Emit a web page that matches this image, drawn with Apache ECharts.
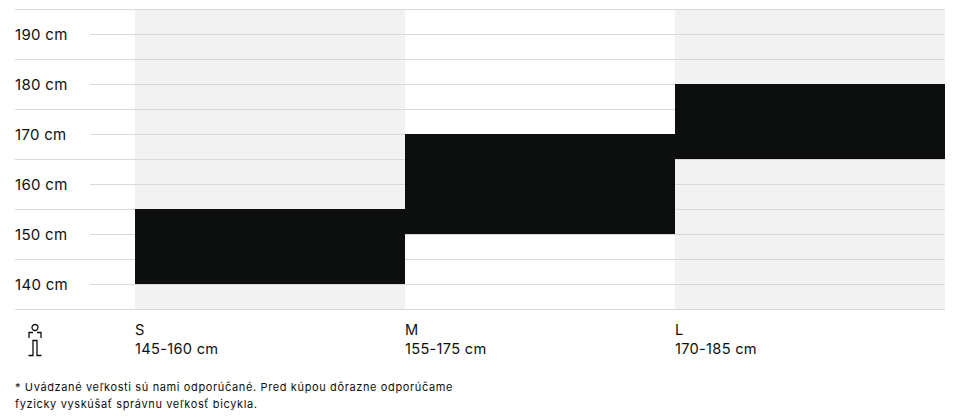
<!DOCTYPE html>
<html><head><meta charset="utf-8">
<style>html,body{margin:0;padding:0;background:#fff}#c{width:958px;height:420px}
#c text{letter-spacing:.3px}
#c text[style*="11px"]{letter-spacing:.63px}
</style>
<script src="https://cdn.jsdelivr.net/npm/echarts@6/dist/echarts.min.js"></script>
</head><body><div id="c"></div>
<script>
const sizes = ['S','M','L'];
const rangeLabels = ['145-160 cm','155-175 cm','170-185 cm'];
const lowHeights = [140,150,165];
const spans = [15,20,15];
const minorLines = [135,145,155,165,175,185,195];
const footnote = '* Uvádzané veľkosti sú nami odporúčané. Pred kúpou dôrazne odporúčame\nfyzicky vyskúšať správnu veľkosť bicykla.';
const FONT = 'Inter';
const INK = '#0d0f0e', LINE = '#d9d9d9';
const chart = echarts.init(document.getElementById('c'), null, {renderer:'svg'});
chart.setOption({
  animation:false,
  textStyle:{fontFamily:FONT},
  grid:{left:135,right:13,top:9,height:300,containLabel:false},
  title:{text:footnote,left:15,top:379,padding:0,textStyle:{fontFamily:FONT,fontSize:11,fontWeight:400,color:INK,lineHeight:16.5}},
  xAxis:[
    {type:'category',z:0,data:sizes,axisLine:{show:false},axisTick:{show:false},axisLabel:{show:false},
     splitArea:{show:true,areaStyle:{color:['#f2f2f2','#ffffff']}},splitLine:{show:false}},
    {type:'value',min:0,max:3,interval:1,position:'bottom',axisLine:{show:false},axisTick:{show:false},splitLine:{show:false},
     axisLabel:{align:'left',verticalAlign:'top',margin:11,fontFamily:FONT,fontSize:14.6,lineHeight:19,color:INK,
       showMaxLabel:false,
       formatter:v=>sizes[v]!==undefined?sizes[v]+'\n'+rangeLabels[v]:''}}
  ],
  yAxis:{type:'value',z:1,min:135,max:195,interval:5,
    axisLine:{show:false},
    axisTick:{show:true,length:45,lineStyle:{color:LINE}},
    splitLine:{show:true,lineStyle:{color:LINE,width:1}},
    axisLabel:{align:'left',margin:120,padding:[4,0,0,0],fontFamily:FONT,fontSize:15,color:INK,
      showMinLabel:true,formatter:v=>v%10===0?v+' cm':''}},
  series:[
    {type:'bar',stack:'r',silent:true,z:3,barWidth:'100%',data:lowHeights,itemStyle:{color:'transparent'}},
    {type:'bar',stack:'r',silent:true,z:3,barWidth:'100%',data:spans,itemStyle:{color:INK}},
    {type:'custom',silent:true,clip:false,z:1,coordinateSystem:'cartesian2d',data:minorLines,
     encode:{y:0},
     renderItem:(p,api)=>{
       const x0=p.coordSys.x; const y=Math.round(api.coord([0,api.value(0)])[1])+0.5;
       return {type:'line',shape:{x1:x0-120,y1:y,x2:x0,y2:y},style:{stroke:LINE,lineWidth:1}};
     }}
  ],
  graphic:[{type:'group',silent:true,children:[
    {type:'circle',shape:{cx:35,cy:327.5,r:3},style:{fill:'none',stroke:INK,lineWidth:1.3}},
    {type:'polyline',shape:{points:[[29,338],[29,332.5],[33,332.5]]},style:{fill:'none',stroke:INK,lineWidth:1.3}},
    {type:'polyline',shape:{points:[[41,338],[41,332.5],[37,332.5]]},style:{fill:'none',stroke:INK,lineWidth:1.3}},
    {type:'polyline',shape:{points:[[28.5,355.5],[33,355.5],[33,340.5],[37,340.5],[37,355.5],[41.5,355.5]]},style:{fill:'none',stroke:INK,lineWidth:1.3}}
  ]}]
});
</script></body></html>
